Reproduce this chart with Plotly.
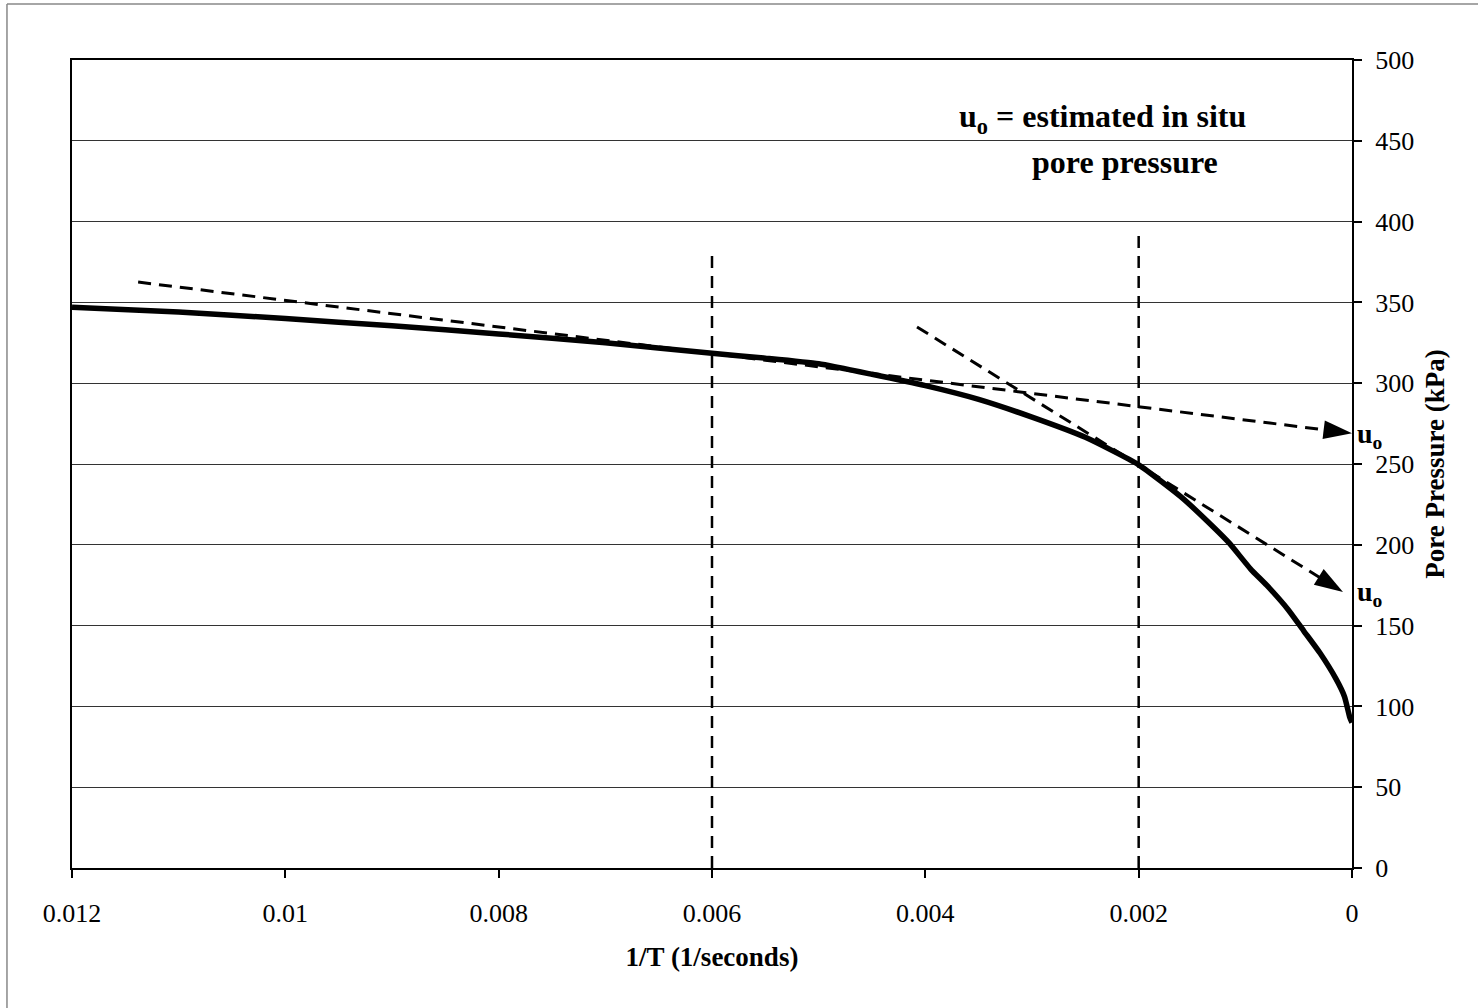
import plotly.graph_objects as go

# Measured curve: 1/T (1/s) vs pore pressure (kPa)
inv_t = [0.012, 0.011, 0.010, 0.009, 0.008, 0.007, 0.006, 0.0055, 0.005, 0.0045, 0.004,
         0.0035, 0.003, 0.0025, 0.002, 0.0016, 0.0013, 0.00115, 0.00095, 0.0008,
         0.0006, 0.00045, 0.0003, 0.00015, 0.00007, 0.00002, 0.0]
pore_p = [347, 344, 340, 335.5, 330.5, 325, 318.5, 315.5, 312, 305.5, 298.5,
          290, 279, 266.5, 249.5, 229.5, 211, 201, 185, 175,
          160, 146.5, 133, 117, 106, 93, 90]

# Tangent (extrapolation) lines
tan1_x = [0.01138, 0.0]
tan1_y = [362.6, 269]
tan2_x = [0.004078, 0.0000844]
tan2_y = [334.8, 170.8]

# Vertical reference lines
vline_x = [0.006, 0.002]
vline_top = [383, 392]

x_ticks = [0.012, 0.010, 0.008, 0.006, 0.004, 0.002, 0.0]
x_tick_labels = ["0.012", "0.01", "0.008", "0.006", "0.004", "0.002", "0"]
y_ticks = [0, 50, 100, 150, 200, 250, 300, 350, 400, 450, 500]

FONT = "Liberation Serif, Times New Roman, serif"

fig = go.Figure()

for vx, vt in zip(vline_x, vline_top):
    fig.add_trace(go.Scatter(x=[vx, vx], y=[0, vt], mode="lines",
                             line=dict(color="black", width=2.5, dash="12px,8px"),
                             showlegend=False, hoverinfo="skip"))

fig.add_trace(go.Scatter(x=inv_t, y=pore_p, mode="lines",
                         line=dict(color="black", width=5.5, shape="spline", smoothing=0.5),
                         showlegend=False))

for tx, ty in ((tan1_x, tan1_y), (tan2_x, tan2_y)):
    fig.add_trace(go.Scatter(x=tx, y=ty, mode="lines+markers",
                             line=dict(color="black", width=3, dash="13px,8px"),
                             marker=dict(symbol="arrow", size=[0, 30], color="black", opacity=1,
                                         angleref="previous", line=dict(width=0)),
                             showlegend=False, hoverinfo="skip"))

# u_o labels at arrow tips
for yv in (tan1_y[-1], tan2_y[-1]):
    fig.add_annotation(x=0, y=yv, xref="x", yref="y", xanchor="left", yanchor="middle",
                       xshift=3, yshift=-2, showarrow=False,
                       text="<b>u<sub>o</sub></b>", font=dict(family=FONT, size=28, color="black"))

fig.add_annotation(x=0.00234, y=464, xref="x", yref="y", showarrow=False,
                   text="<b>u<sub>o</sub> = estimated in situ</b>",
                   font=dict(family=FONT, size=32, color="black"))
fig.add_annotation(x=0.00213, y=437, xref="x", yref="y", showarrow=False,
                   text="<b>pore pressure</b>",
                   font=dict(family=FONT, size=32, color="black"))

# outer frame (partial, top & left)
fig.add_shape(type="line", xref="paper", yref="paper", x0=-0.0508, x1=1.1, y0=1.0693, y1=1.0693,
              line=dict(color="#888", width=1.5))
fig.add_shape(type="line", xref="paper", yref="paper", x0=-0.0508, x1=-0.0508, y0=1.0693, y1=-0.2,
              line=dict(color="#888", width=1.5))

fig.update_layout(
    width=1478, height=1008,
    margin=dict(l=72, r=126, t=60, b=140),
    paper_bgcolor="white", plot_bgcolor="white",
    font=dict(family=FONT, size=26, color="black"),
    xaxis=dict(range=[0.012, 0], tickvals=x_ticks, ticktext=x_tick_labels,
               showgrid=False, zeroline=False, showline=True, linecolor="black", linewidth=2,
               mirror=True, ticks="outside", ticklen=8, tickcolor="black", tickwidth=1.5,
               tickfont=dict(family=FONT, size=26), ticklabelstandoff=13,
               title=dict(text="<b>1/T (1/seconds)</b>", font=dict(family=FONT, size=27), standoff=20)),
    yaxis=dict(range=[0, 500], tickvals=y_ticks, side="right",
               showgrid=True, gridcolor="#333", gridwidth=1.2, zeroline=False,
               showline=True, linecolor="black", linewidth=2, mirror=True,
               ticks="outside", ticklen=8, tickcolor="black", tickwidth=1.5,
               tickfont=dict(family=FONT, size=26), ticklabelstandoff=8,
               title=dict(text="<b>Pore Pressure (kPa)</b>", font=dict(family=FONT, size=27), standoff=12)),
)

fig.write_html("out.html")
